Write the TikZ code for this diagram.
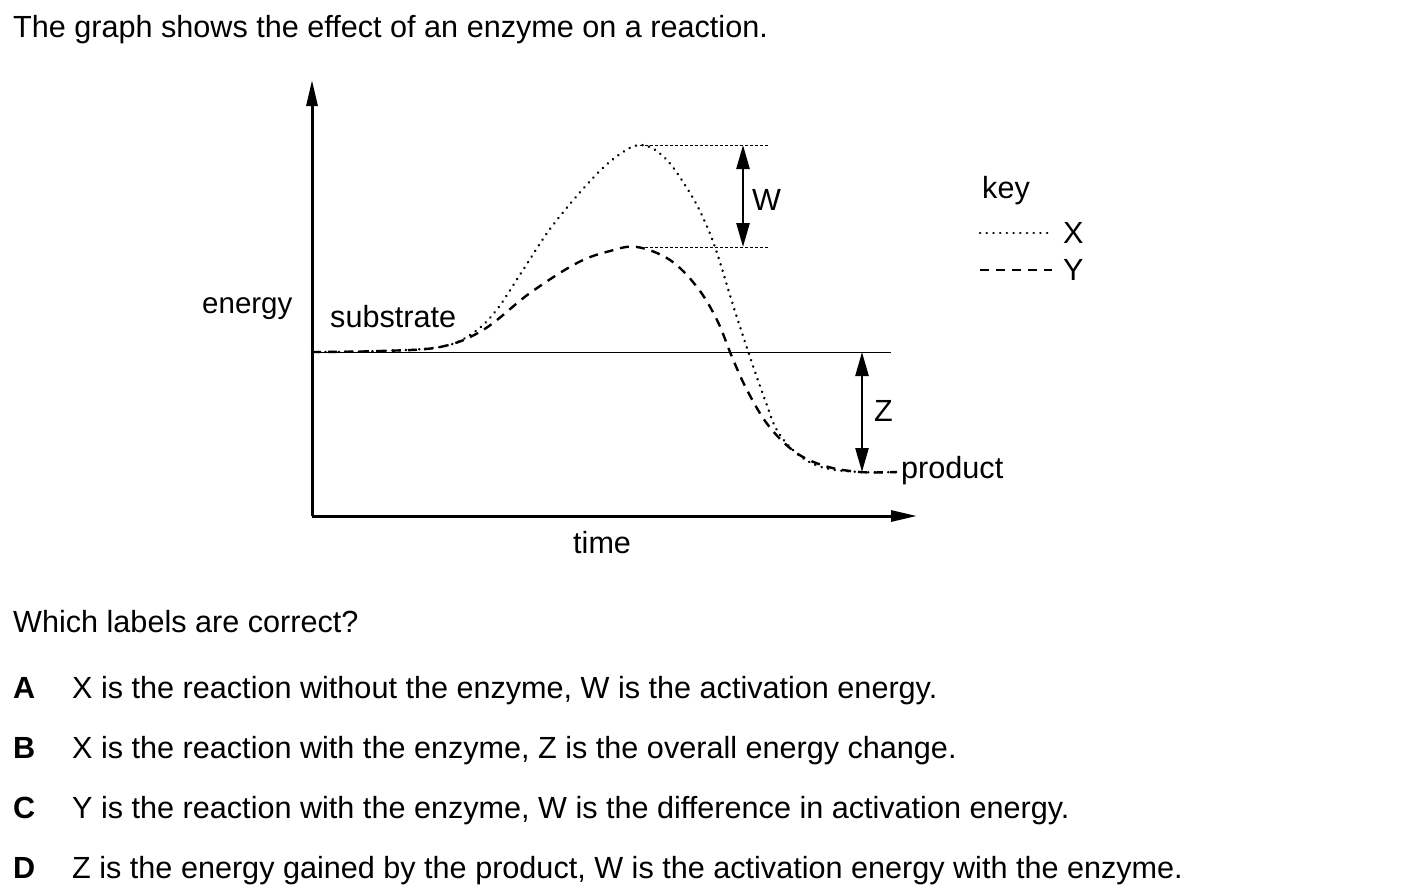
\documentclass[tikz,border=0pt]{standalone}
\usepackage{fontspec}
\setmainfont{Liberation Sans}
\usetikzlibrary{arrows.meta}
\begin{document}
\begin{tikzpicture}[x=1pt,y=-1pt,
 txt/.style={inner sep=0pt, anchor=base west, font=\fontsize{30.6}{36}\selectfont},
 smalltxt/.style={inner sep=0pt, anchor=base west, font=\fontsize{29.5}{36}\selectfont},
 lettertxt/.style={inner sep=0pt, anchor=base west, font=\fontsize{30.6}{36}\selectfont\bfseries},
 axisline/.style={line width=3pt, -{Triangle[length=26pt,width=11pt]}},
 guide/.style={line width=1pt},
 thinguide/.style={line width=0.8pt, dash pattern=on 3pt off 2pt},
 dimarrow/.style={line width=2.5pt, {Triangle[length=24pt,width=13pt]}-{Triangle[length=24pt,width=13pt]}},
 curveX/.style={line width=2.6pt, line cap=round, dash pattern=on 0.2pt off 6.5pt},
 curveY/.style={line width=2.4pt, dash pattern=on 9pt off 7pt},
]
\useasboundingbox (0,0) rectangle (1426,895);
% title
\node[txt] (title) at (13,37) {The graph shows the effect of an enzyme on a reaction.};
% axes
\coordinate (origin) at (312,516);
\coordinate (ytip) at (312,80);
\coordinate (xtip) at (917,516);
\draw[axisline] (origin) -- (ytip);
\draw[axisline] (origin) -- (xtip);
\node[smalltxt] (energy) at (202,313) {energy};
\node[txt] (time) at (573,553) {time};
\node[txt] (substrate) at (330,327) {substrate};
% substrate level line
\coordinate (sub0) at (312,352);
\coordinate (sub1) at (891,352);
\draw[guide] (sub0) -- (sub1);
% curves
\draw[curveX] plot[smooth, tension=0.6] coordinates {(312,352) (380,351) (440,347) (470,335) (495,312) (523,270) (550,229) (583,189) (612,160) (640,145) (665,158) (690,193) (705,222) (717,253) (733,305) (750,357) (765,400) (778,432) (800,456) (825,468) (860,472) (897,472)};
\draw[curveY] plot[smooth, tension=0.6] coordinates {(312,352) (380,351) (440,347) (483,330) (530,293) (577,263) (610,251) (637,247) (670,260) (697,287) (717,320) (732,357) (747,390) (768,425) (795,452) (825,466) (860,472) (897,472)};
% W
\coordinate (wtopL) at (640,145);
\coordinate (wtopR) at (768,145);
\coordinate (wbotL) at (640,247);
\coordinate (wbotR) at (768,247);
\draw[thinguide] (wtopL) -- (wtopR);
\draw[thinguide] (wbotL) -- (wbotR);
\coordinate (wa) at (743,145);
\coordinate (wb) at (743,247);
\draw[dimarrow] (wa) -- (wb);
\node[txt] (W) at (752,210) {W};
% Z
\coordinate (za) at (862,352);
\coordinate (zb) at (862,472);
\draw[dimarrow] (za) -- (zb);
\node[txt] (Z) at (874,421) {Z};
\node[txt] (product) at (901,478) {product};
% key
\node[txt] (key) at (982,198) {key};
\coordinate (kx0) at (980,233);
\coordinate (kx1) at (1052,233);
\draw[curveX] (kx0) -- (kx1);
\node[txt] (kX) at (1063,243) {X};
\coordinate (ky0) at (980,270);
\coordinate (ky1) at (1052,270);
\draw[curveY] (ky0) -- (ky1);
\node[txt] (kY) at (1063,280) {Y};
% question
\node[txt] (q) at (13,632) {Which labels are correct?};
\node[lettertxt] (la) at (13,698) {A};
\node[txt] (ta) at (72,698) {X is the reaction without the enzyme, W is the activation energy.};
\node[lettertxt] (lb) at (13,758) {B};
\node[txt] (tb) at (72,758) {X is the reaction with the enzyme, Z is the overall energy change.};
\node[lettertxt] (lc) at (13,818) {C};
\node[txt] (tc) at (72,818) {Y is the reaction with the enzyme, W is the difference in activation energy.};
\node[lettertxt] (ld) at (13,878) {D};
\node[txt] (td) at (72,878) {Z is the energy gained by the product, W is the activation energy with the enzyme.};
\end{tikzpicture}
\end{document}
